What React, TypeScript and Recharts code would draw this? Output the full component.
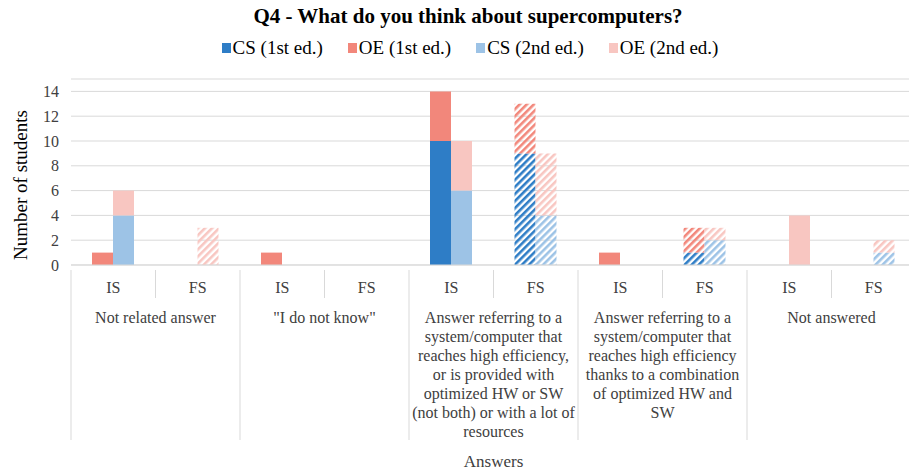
import React from 'react';
import { BarChart, Bar, Cell, XAxis, YAxis, CartesianGrid } from 'recharts';

const groupLabels = [
  ['Not related answer'],
  ['"I do not know"'],
  [
    'Answer referring to a',
    'system/computer that',
    'reaches high efficiency,',
    'or is provided with',
    'optimized HW or SW',
    '(not both) or with a lot of',
    'resources',
  ],
  [
    'Answer referring to a',
    'system/computer that',
    'reaches high efficiency',
    'thanks to a combination',
    'of optimized HW and',
    'SW',
  ],
  ['Not answered'],
];
const stages = ['IS', 'FS'];

// one value per (group, stage), IS then FS
const cs1 = [0, 0, 0, 0, 10, 9, 0, 1, 0, 0];
const oe1 = [1, 0, 1, 0, 4, 4, 1, 2, 0, 0];
const cs2 = [4, 0, 0, 0, 6, 4, 0, 2, 0, 1];
const oe2 = [2, 3, 0, 0, 4, 5, 0, 1, 4, 1];

const yTicks = [0, 2, 4, 6, 8, 10, 12, 14];

const series = [
  { key: 'cs1', name: 'CS (1st ed.)', color: '#2E7DC6', stack: 'first' },
  { key: 'oe1', name: 'OE (1st ed.)', color: '#F2877B', stack: 'first' },
  { key: 'cs2', name: 'CS (2nd ed.)', color: '#9DC3E6', stack: 'second' },
  { key: 'oe2', name: 'OE (2nd ed.)', color: '#F8C6C1', stack: 'second' },
];

const data = groupLabels.flatMap((g, gi) =>
  stages.map((s, si) => {
    const i = gi * 2 + si;
    return { id: `${gi}-${s}`, group: gi, stage: s, cs1: cs1[i], oe1: oe1[i], cs2: cs2[i], oe2: oe2[i] };
  })
);

const W = 909;
const H = 471;
const margin = { top: 79, right: -7, bottom: 0, left: 0 };
const yAxisW = 71;
const plotW = W - margin.left - margin.right - yAxisW;
const band = plotW / data.length;
const font = '"Liberation Serif", "Times New Roman", serif';
const textColor = '#404040';
const lineColor = '#D9D9D9';

const CategoryTick = (props: any) => {
  const { x, y, index } = props;
  const row = data[index];
  if (!row) return null;
  const isFirst = row.stage === 'IS';
  const left = x - band / 2;
  return (
    <g>
      <text x={x} y={y + 28} textAnchor="middle" fontSize={16} fontFamily={font} fill={textColor}>
        {row.stage}
      </text>
      {isFirst ? (
        <line x1={left} x2={left} y1={y + 5} y2={y + 175} stroke={lineColor} />
      ) : (
        <line x1={left} x2={left} y1={y + 5} y2={y + 33} stroke={lineColor} />
      )}
      {isFirst &&
        groupLabels[row.group].map((ln, li) => (
          <text
            key={li}
            x={x + band / 2}
            y={y + 58 + li * 19}
            textAnchor="middle"
            fontSize={16}
            fontFamily={font}
            fill={textColor}
          >
            {ln}
          </text>
        ))}
    </g>
  );
};

const YLabel = (props: any) => {
  const vb = props.viewBox || {};
  const cx = 20;
  const cy = vb.y + vb.height / 2 + 13;
  return (
    <text
      x={cx}
      y={cy}
      transform={`rotate(-90 ${cx} ${cy})`}
      textAnchor="middle"
      dominantBaseline="central"
      fontSize={19}
      fontFamily={font}
      fill="#000"
    >
      Number of students
    </text>
  );
};

export default function App() {
  return (
    <div style={{ position: 'relative', width: W, height: H, background: '#fff', fontFamily: font }}>
      <style>{'body{margin:0}'}</style>
      <div
        style={{
          position: 'absolute',
          top: 4,
          left: 0,
          width: 936,
          textAlign: 'center',
          fontSize: 21,
          fontWeight: 'bold',
          color: '#000',
        }}
      >
        Q4 - What do you think about supercomputers?
      </div>
      <div
        style={{
          position: 'absolute',
          top: 37,
          left: 0,
          width: 940,
          display: 'flex',
          justifyContent: 'center',
          gap: 25,
          fontSize: 19,
          color: '#000',
        }}
      >
        {series.map((s) => (
          <div key={s.key} style={{ display: 'flex', alignItems: 'center' }}>
            <span style={{ width: 9, height: 10, background: s.color, marginRight: 2, display: 'inline-block' }} />
            <span>{s.name}</span>
          </div>
        ))}
      </div>
      <BarChart width={W} height={H} data={data} margin={margin} barGap={0} style={{ position: 'absolute', top: 0, left: 0 }}>
        <defs>
          {series.map((s) => (
            <pattern
              key={s.key}
              id={`hatch-${s.key}`}
              width={5}
              height={5}
              patternUnits="userSpaceOnUse"
              patternTransform="rotate(45)"
            >
              <rect x={0} y={0} width={2.6} height={5} fill={s.color} />
            </pattern>
          ))}
        </defs>
        <CartesianGrid horizontal vertical={false} stroke={lineColor} />
        <XAxis
          dataKey="id"
          height={H - 265}
          interval={0}
          tickLine={false}
          tickSize={0}
          tickMargin={0}
          axisLine={{ stroke: lineColor }}
          tick={<CategoryTick />}
          label={{ value: 'Answers', position: 'insideBottom', offset: 4, fontSize: 17, fontFamily: font, fill: textColor }}
        />
        <XAxis
          xAxisId="top"
          orientation="top"
          type="number"
          domain={[0, data.length]}
          ticks={data.map((_, i) => i).concat([data.length])}
          height={0}
          tick={false}
          tickSize={5}
          tickLine={{ stroke: lineColor }}
          axisLine={{ stroke: lineColor }}
        />
        <YAxis
          width={yAxisW}
          domain={[0, 15]}
          ticks={yTicks}
          interval={0}
          axisLine={false}
          tickLine={false}
          tickMargin={6}
          tick={{ fontSize: 16, fontFamily: font, fill: textColor }}
          label={<YLabel />}
        />
        {series.map((s) => (
          <Bar key={s.key} dataKey={s.key} name={s.name} stackId={s.stack} fill={s.color} barSize={21} isAnimationActive={false}>
            {data.map((row) => (
              <Cell key={row.id} fill={row.stage === 'FS' ? `url(#hatch-${s.key})` : s.color} />
            ))}
          </Bar>
        ))}
      </BarChart>
    </div>
  );
}
